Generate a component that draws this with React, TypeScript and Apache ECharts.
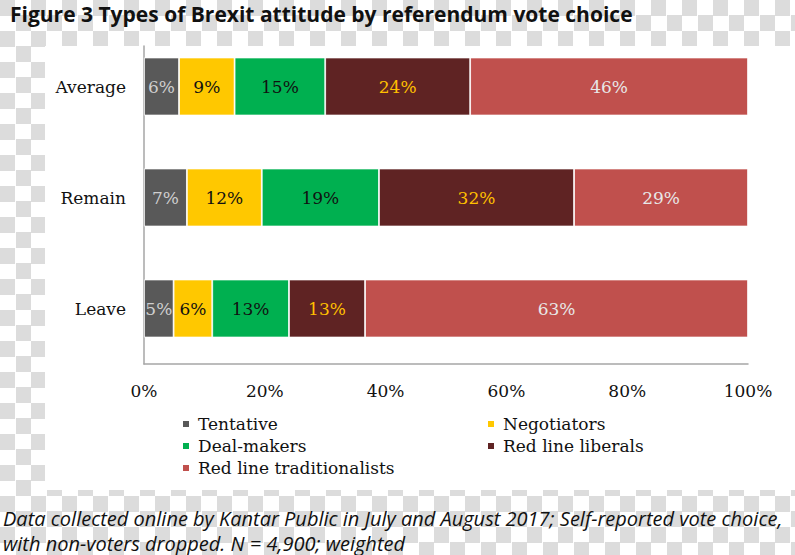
import React, { useEffect, useRef } from "react";
import * as echarts from "echarts";

const categories = ["Average", "Remain", "Leave"];
const seriesNames = ["Tentative", "Negotiators", "Deal-makers", "Red line liberals", "Red line traditionalists"];
const tentative = [5.8, 7.1, 4.9];
const negotiators = [9.2, 12.4, 6.4];
const dealMakers = [15.0, 19.4, 12.7];
const redLineLiberals = [24.0, 32.3, 12.6];
const redLineTraditionalists = [46.0, 28.8, 63.4];
const xTicks = [0, 20, 40, 60, 80, 100];

const colors = ["#595959", "#FFC800", "#00B050", "#5F2323", "#C0504D"];
const labelColors = ["#cfcfcf", "#111111", "#111111", "#FFC000", "#e8e8e8"];

const TITLE = "Figure 3 Types of Brexit attitude by referendum vote choice";
const NOTE1 = "Data collected online by Kantar Public in July and August 2017; Self-reported vote choice,";
const NOTE2 = "with non-voters dropped. N = 4,900; weighted";

const SERIF = "'DejaVu Serif', serif";

export default function App() {
  const ref = useRef<HTMLDivElement>(null);
  useEffect(() => {
    if (!ref.current) return;
    const chart = echarts.init(ref.current, undefined, { renderer: "svg" });
    const values = [tentative, negotiators, dealMakers, redLineLiberals, redLineTraditionalists];
    chart.setOption({
      animation: false,
      title: {
        text: TITLE,
        left: 10,
        top: 3,
        padding: 0,
        textStyle: { fontFamily: "'Open Sans'", fontWeight: "bold", fontSize: 21, lineHeight: 22, color: "#111" },
      },
      graphic: [
        { type: "rect", z: -100, shape: { x: 45, y: 46, width: 750, height: 444 }, style: { fill: "#ffffff" }, silent: true },
        { type: "text", x: 3, y: 518, style: { text: NOTE1, font: "italic 20px 'Open Sans'", fill: "#111", textVerticalAlign: "middle" } },
        { type: "text", x: 3, y: 543, style: { text: NOTE2, font: "italic 20px 'Open Sans'", fill: "#111", textVerticalAlign: "middle" } },
      ],
      legend: [
        {
          orient: "vertical",
          left: 181,
          top: 413,
          itemWidth: 8,
          itemHeight: 8,
          itemGap: 0,
          icon: "rect",
          padding: 0,
          data: ["Tentative", "Deal-makers", "Red line traditionalists"],
          textStyle: { fontFamily: SERIF, fontSize: 17, color: "#111", lineHeight: 22, padding: [0, 0, 0, 3] },
        },
        {
          orient: "vertical",
          left: 486,
          top: 413,
          itemWidth: 8,
          itemHeight: 8,
          itemGap: 0,
          icon: "rect",
          padding: 0,
          data: ["Negotiators", "Red line liberals"],
          textStyle: { fontFamily: SERIF, fontSize: 17, color: "#111", lineHeight: 22, padding: [0, 0, 0, 3] },
        },
      ],
      grid: [
        { left: 144, right: 47, top: 31, bottom: 191, containLabel: false },
        { left: 144, right: 47, top: 46, bottom: 191, containLabel: false },
      ],
      xAxis: [
        {
          type: "value",
          gridIndex: 0,
          min: 0,
          max: 100,
          interval: 20,
          axisLine: { show: true, lineStyle: { color: "#a6a6a6", width: 1.5 } },
          axisTick: { show: false },
          splitLine: { show: false },
          axisLabel: {
            margin: 18,
            fontFamily: SERIF,
            fontSize: 17,
            color: "#111",
            formatter: (v: number) => (xTicks.includes(v) ? v + "%" : ""),
          },
        },
        { type: "value", gridIndex: 1, min: 0, max: 1, show: false },
      ],
      yAxis: [
        {
          type: "category",
          gridIndex: 0,
          data: categories,
          inverse: true,
          axisLine: { show: false },
          axisTick: { show: false },
          axisLabel: { margin: 18, fontFamily: SERIF, fontSize: 17, color: "#111" },
        },
        {
          type: "value",
          gridIndex: 1,
          min: 0,
          max: 1,
          axisLine: { show: true, lineStyle: { color: "#a6a6a6", width: 1.5 } },
          axisTick: { show: false },
          axisLabel: { show: false },
          splitLine: { show: false },
        },
      ],
      series: seriesNames.map((name, i) => ({
        name,
        type: "bar",
        stack: "total",
        xAxisIndex: 0,
        yAxisIndex: 0,
        barWidth: 58,
        data: values[i],
        itemStyle: { color: colors[i], borderColor: "#ffffff", borderWidth: 0.8 },
        label: {
          show: true,
          position: "inside",
          fontFamily: SERIF,
          fontSize: 17,
          color: labelColors[i],
          formatter: (p: any) => Math.round(p.value) + "%",
        },
      })),
    });
    return () => chart.dispose();
  }, []);

  return (
    <div
      style={{
        position: "fixed",
        left: 0,
        top: 0,
        width: 795,
        height: 555,
        backgroundColor: "#ffffff",
        backgroundImage: "repeating-conic-gradient(#ffffff 0% 25%, #dcdcdc 0% 50%)",
        backgroundSize: "31px 31px",
      }}
    >
      <div ref={ref} style={{ width: 795, height: 555 }} />
    </div>
  );
}
